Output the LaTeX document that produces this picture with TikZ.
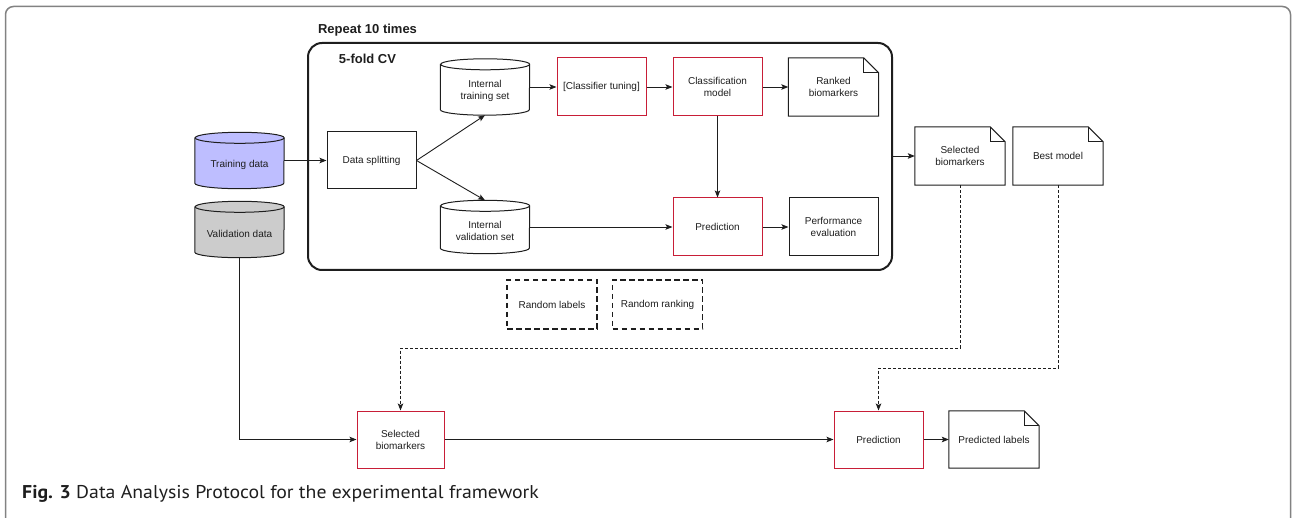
\documentclass[tikz,border=0pt]{standalone}
\usepackage{fontspec}
\setmainfont{Liberation Sans}
\newfontfamily\capfont[FakeStretch=1.07]{PT Sans}
\usetikzlibrary{arrows.meta,backgrounds}
\definecolor{redb}{RGB}{200,30,55}
\definecolor{lav}{RGB}{190,190,255}
\definecolor{cylgray}{RGB}{204,204,204}
\definecolor{framegray}{RGB}{130,130,130}
\definecolor{ink}{RGB}{30,30,30}
% document shape with folded corner
\newcommand{\docoutline}[1]{%
  \draw[ink, line width=1pt, fill=white] (#1.north west) -- ([xshift=-15pt]#1.north east) -- ([yshift=-15pt]#1.north east) -- (#1.south east) -- (#1.south west) -- cycle;
  \draw[ink, line width=0.8pt] ([xshift=-15pt]#1.north east) -- ([xshift=-15pt,yshift=-15pt]#1.north east) -- ([yshift=-15pt]#1.north east);}
% cylinder outline
\newcommand{\cyloutline}[2]{%
  \filldraw[ink, line width=1pt, fill=#2] ([yshift=-5.5pt]#1.north west) -- ([yshift=5.5pt]#1.south west) arc[start angle=180,end angle=360,x radius=44.5pt,y radius=5.5pt] -- ([yshift=-5.5pt]#1.north east) arc[start angle=0,end angle=180,x radius=44.5pt,y radius=5.5pt] -- cycle;
  \draw[ink, line width=1pt] ([yshift=-5.5pt]#1.north east) arc[start angle=0,end angle=-180,x radius=44.5pt,y radius=5.5pt];}
\begin{document}
\begin{tikzpicture}[x=1pt,y=1pt,
  txt/.style={align=center, font=\fontsize{10}{12}\selectfont, inner sep=2pt, text=ink},
  box/.style={txt, draw=ink, line width=1pt, minimum width=89pt, minimum height=58pt},
  redbox/.style={box, draw=redb},
  docbox/.style={txt, minimum width=90pt, minimum height=58pt},
  cylbox/.style={minimum width=89pt, minimum height=56pt, inner sep=0pt},
  cyltext/.style={txt, yshift=-4pt},
  dbox/.style={txt, draw=ink, line width=1.2pt, dash pattern=on 5.5pt off 3.5pt, minimum width=90pt, minimum height=49pt},
  arr/.style={draw=ink, line width=0.9pt, -{Stealth[length=7pt,width=5.5pt,inset=1.5pt]}},
  darr/.style={arr, dash pattern=on 3pt off 2pt}]
\useasboundingbox (0,0) rectangle (1292,-518);
% outer figure frame
\draw[framegray, line width=1.5pt, rounded corners=8pt] (5.5,-530) -- (5.5,-6.5) -- (1290.5,-6.5) -- (1290.5,-530);
% titles
\node[font=\fontsize{13}{15}\selectfont\bfseries, text=ink] (rep) at (367.5,-30) {Repeat 10 times};
\node[draw=ink, line width=2pt, rounded corners=14pt, minimum width=584pt, minimum height=227pt] (cv) at (600,-156.5) {};
\node[font=\fontsize{13}{15}\selectfont\bfseries, text=ink] (fold) at (367.5,-59) {5-fold CV};
% cylinders
\node[cylbox, label={[cyltext]center:Training data}] (trd) at (239.5,-160.5) {};
\node[cylbox, label={[cyltext]center:Validation data}] (vd) at (239.5,-229.5) {};
\node[cylbox, label={[cyltext]center:Internal\\training set}] (its) at (485,-87) {};
\node[cylbox, minimum height=53pt, label={[cyltext]center:Internal\\validation set}] (ivs) at (485,-227) {};
\begin{pgfonlayer}{background}
\cyloutline{trd}{lav}
\cyloutline{vd}{cylgray}
\cyloutline{its}{white}
\cyloutline{ivs}{white}
\end{pgfonlayer}
% boxes
\node[box, minimum height=57pt] (split) at (371.5,-160.5) {Data splitting};
\node[redbox] (tune) at (601.5,-87) {[Classifier tuning]};
\node[redbox] (cm) at (717.5,-87) {Classification\\model};
\node[docbox] (rb) at (833.5,-87) {Ranked\\biomarkers};
\node[redbox] (pred) at (717.5,-227) {Prediction};
\node[box] (perf) at (833.5,-227) {Performance\\evaluation};
\node[docbox] (selb) at (960,-156) {Selected\\biomarkers};
\node[docbox] (bm) at (1058,-156) {Best model};
\node[dbox] (rl) at (552,-304.5) {Random labels};
\node[dbox] (rr) at (657.5,-304.5) {Random ranking};
\node[redbox, minimum width=87pt, minimum height=57pt] (bsel) at (400.5,-439.5) {Selected\\biomarkers};
\node[redbox, minimum height=57pt] (bpred) at (878.5,-439.5) {Prediction};
\node[docbox, minimum height=57pt] (plab) at (994,-439.5) {Predicted labels};
\begin{pgfonlayer}{background}
\docoutline{rb}
\docoutline{selb}
\docoutline{bm}
\docoutline{plab}
\end{pgfonlayer}
% connectors
\draw[arr] (trd.east) -- (split.west);
\draw[arr] (split.east) -- (its.south);
\draw[arr] (split.east) -- (ivs.north);
\draw[arr] (its.east) -- (its.east -| tune.west);
\draw[arr] (tune.east) -- (cm.west);
\draw[arr] (cm.east) -- (rb.west);
\draw[arr] (cm.south) -- (pred.north);
\draw[arr] (ivs.east) -- (pred.west);
\draw[arr] (pred.east) -- (perf.west);
\draw[arr] (selb.west -| cv.east) -- (selb.west);
\coordinate (d1) at (0,-348);
\coordinate (d2) at (0,-368);
\draw[darr] (selb.south) -- (selb.south |- d1) -| (bsel.north);
\draw[darr] (bm.south) -- (bm.south |- d2) -| (bpred.north);
\draw[arr] (vd.south) |- (bsel.west);
\draw[arr] (bsel.east) -- (bpred.west);
\draw[arr] (bpred.east) -- (plab.west);
% caption
\node[anchor=west, inner sep=0pt, font=\capfont\fontsize{18.5}{22}\selectfont, text=ink] (cap) at (22,-494) {\textbf{Fig. 3} Data Analysis Protocol for the experimental framework};
\end{tikzpicture}
\end{document}
